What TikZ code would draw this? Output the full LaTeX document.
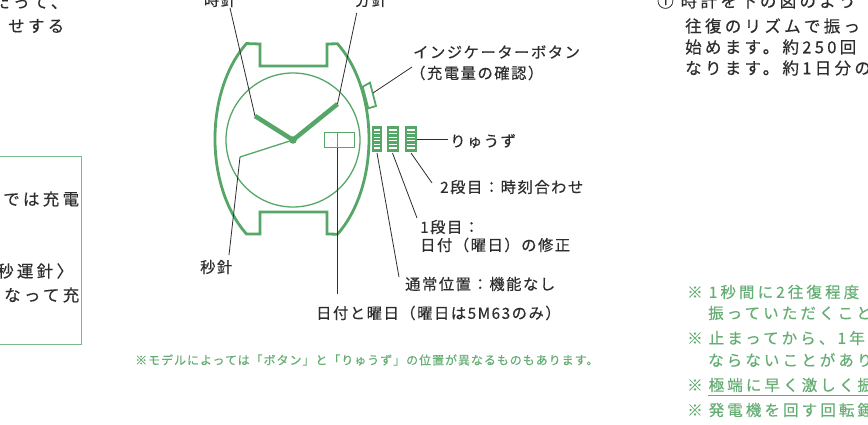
\documentclass[tikz,border=0pt]{standalone}
\usepackage{fontspec}
\usepackage{xcolor}
\usepackage{tikz}
\newfontfamily\jpbody[LetterSpace=20,FakeBold=0.3]{Noto Sans CJK JP}
\newfontfamily\jplabel[LetterSpace=10,FakeBold=0.3]{Noto Sans CJK JP}
\newfontfamily\jpnote[LetterSpace=8,FakeBold=0.2]{Noto Sans CJK JP}
\definecolor{casegreen}{RGB}{86,166,104}
\definecolor{notegreen}{RGB}{100,174,116}
\definecolor{boxgreen}{RGB}{120,186,136}
\definecolor{inkgray}{RGB}{45,45,45}

\begin{document}
\begin{tikzpicture}[x=1pt,y=-1pt,
    casebody/.style={draw=casegreen,line width=2.8pt,line join=miter},
    thinline/.style={draw=casegreen,line width=1.3pt},
    hand/.style={draw=casegreen,line width=4.5pt},
    lead/.style={draw=inkgray,line width=0.8pt},
    bodytxt/.style={text=inkgray,anchor=west,inner sep=0pt,font=\jpbody\fontsize{16.5}{19}\selectfont},
    greentxt/.style={bodytxt,text=notegreen,font=\jpbody\fontsize{15.5}{18}\selectfont},
    partname/.style={text=inkgray,anchor=west,inner sep=0pt,font=\jplabel\fontsize{15.3}{18}\selectfont},
    smallnote/.style={text=notegreen,anchor=west,inner sep=0pt,font=\jpnote\fontsize{12}{14}\selectfont}]
    \useasboundingbox (0,0) rectangle (868,425);
    \fill[white] (0,0) rectangle (868,425);
    \clip (0,0) rectangle (868,425);

    % left column (runs off the page)
    \node[bodytxt] (lt1) at (-7,2) {たって、};
    \node[bodytxt] (lt2) at (8,26) {せする};
    \draw[draw=boxgreen,line width=1pt] (-10,157) rectangle (81.5,344.5);
    \node[bodytxt] (lb1) at (3,199) {では充電};
    \node[bodytxt] (lb2) at (-3,271) {秒運針〉};
    \node[bodytxt] (lb3) at (4,295) {なって充};

    % right column
    \node[bodytxt] (rt0) at (657,1) {①\hspace{7pt}時計を下の図のよう};
    \node[bodytxt] (rt1) at (685,26) {往復のリズムで振っ};
    \node[bodytxt] (rt2) at (685,47) {始めます。約250回};
    \node[bodytxt] (rt3) at (685,68) {なります。約1日分の};

    \node[greentxt] (n1) at (687,292) {※\hspace{6pt}1秒間に2往復程度};
    \node[greentxt] (n1b) at (708,313) {振っていただくこと};
    \node[greentxt] (n2) at (687,338) {※\hspace{6pt}止まってから、1年};
    \node[greentxt] (n2b) at (708,360) {ならないことがあり};
    \node[greentxt] (n3) at (687,385) {※\hspace{6pt}極端に早く激しく振};
    \draw[draw=notegreen,line width=1pt] (708,395) -- (868,395);
    \node[greentxt] (n4) at (687,410) {※\hspace{6pt}発電機を回す回転錘};

    % watch: button, case, dial
    \coordinate (ctr) at (293,140);
    \draw[casebody,line width=1.8pt,fill=white] (362.7,86.7) -- (370,82.7) -- (376,106) -- (368.3,108.3) -- cycle;
    \draw[casebody] (292,139) ++(-53.8:77 and 118)
        arc[start angle=-53.8,end angle=53.8,x radius=77,y radius=118]
        -- (327,234) -- (327,212) -- (260,212) -- (260,234) -- (246.5,234)
        arc[start angle=126.2,end angle=233.8,x radius=77,y radius=118]
        -- (260,44) -- (260,66) -- (327,66) -- (327,44) -- cycle;
    \draw[thinline] (ctr) circle (67);

    % crown, three stops
    \foreach \xl/\xr/\nm in {372/382/stop0,386.5/398.5/stop1,405/417/stop2}{
        \fill[casegreen] (\xl,126.5) rectangle (\xr,152);
        \foreach \ys in {130,133.6,137.2,140.8,144.4,148}
            \draw[white,line width=1.1pt] (\xl+2,\ys) -- (\xr-2,\ys);
        \coordinate (\nm) at ({(\xl+\xr)/2},153);
    }

    % date window
    \draw[thinline,line width=1pt] (324.5,132.5) rectangle (354,148);
    \draw[thinline,line width=1pt] (337.3,132.5) -- (337.3,148);
    \coordinate (datewin) at (337.3,148);

    % hands
    \coordinate (hourtip) at (255,116);
    \coordinate (mintip) at (337.5,104);
    \coordinate (sectip) at (240,157);
    \draw[thinline] (ctr) -- (sectip);
    \draw[hand] (hourtip) -- (ctr) -- (mintip);
    \fill[casegreen] (ctr) circle (3.8);

    % part names and leaders
    \node[partname,anchor=center] (hourname) at (220,0) {時針};
    \node[partname,anchor=center] (minname) at (371,0) {分針};
    \node[partname] (btnname) at (413,52) {インジケーターボタン};
    \node[partname] (btnname2) at (410,73) {（充電量の確認）};
    \node[partname] (crownname) at (450,141) {りゅうず};
    \node[partname] (pos2name) at (440,187) {2段目：時刻合わせ};
    \node[partname] (pos1name) at (420,227) {1段目：};
    \node[partname] (pos1name2) at (420,245) {日付（曜日）の修正};
    \node[partname] (pos0name) at (405,284) {通常位置：機能なし};
    \node[partname] (datename) at (316,313) {日付と曜日（曜日は5M63のみ）};
    \node[partname] (secname) at (200,267) {秒針};

    \coordinate (hourlead) at (230,8);
    \coordinate (minlead) at (356.7,13);
    \coordinate (btnlead) at (412,67);
    \coordinate (btntip) at (373,93);
    \coordinate (crownlead) at (448,139.5);
    \coordinate (pos2lead) at (432,183);
    \coordinate (pos1lead) at (417,218);
    \coordinate (pos0lead) at (399,277);
    \coordinate (datelead) at (337.3,294);
    \coordinate (seclead) at (229,255);

    \draw[lead] (hourlead) -- (hourtip);
    \draw[lead] (minlead) -- (mintip);
    \draw[lead] (btnlead) -- (btntip);
    \draw[lead] (417,139.5) -- (crownlead);
    \draw[lead] (stop2) -- (pos2lead);
    \draw[lead] (stop1) -- (pos1lead);
    \draw[lead] (stop0) -- (pos0lead);
    \draw[lead] (datewin) -- (datelead);
    \draw[lead] (sectip) -- (seclead);

    \node[smallnote] (modelnote) at (135,360) {※モデルによっては「ボタン」と「りゅうず」の位置が異なるものもあります。};
\end{tikzpicture}
\end{document}
